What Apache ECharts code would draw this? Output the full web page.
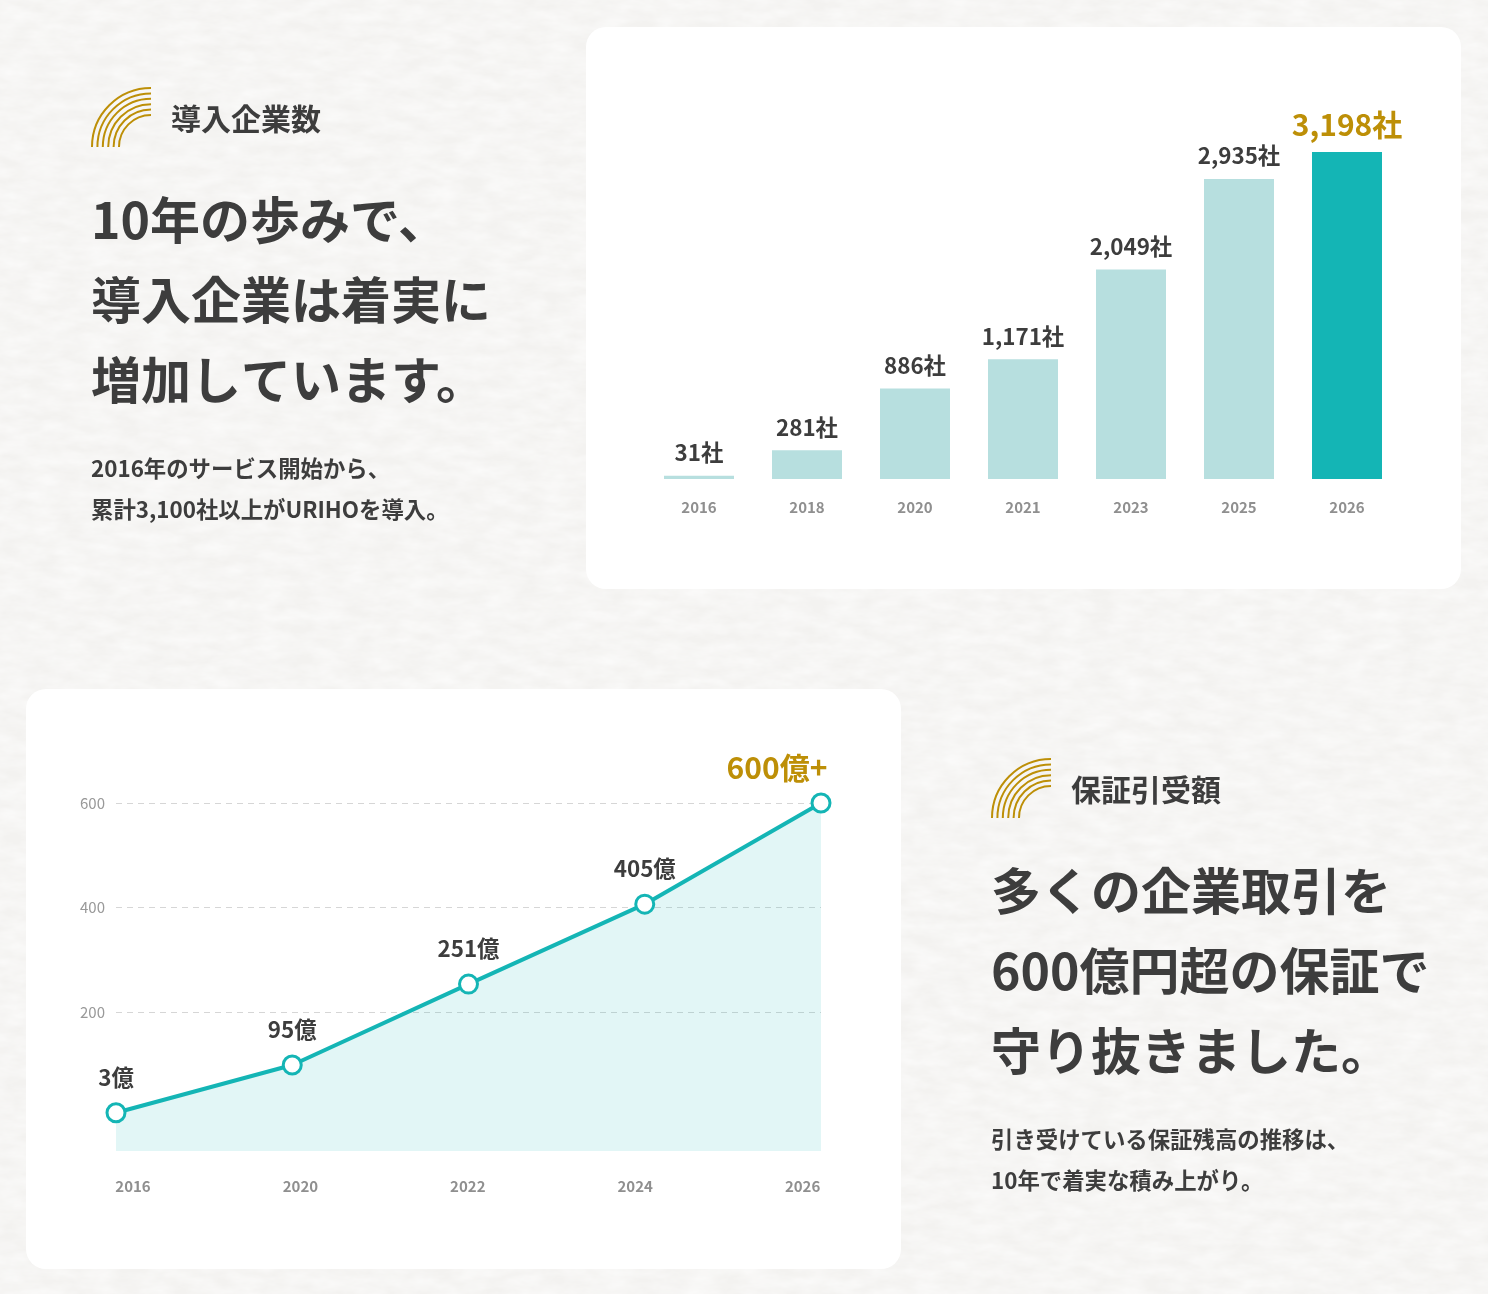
<!DOCTYPE html>
<html lang="ja"><head><meta charset="utf-8">
<style>
html,body{margin:0;padding:0;background-color:#f3f2f0;
background-image:url("data:image/svg+xml,%3Csvg xmlns='http://www.w3.org/2000/svg' width='1488' height='1294'%3E%3Cfilter id='n' x='0' y='0' width='100%25' height='100%25'%3E%3CfeTurbulence type='fractalNoise' baseFrequency='0.035 0.09' numOctaves='4' seed='3'/%3E%3CfeColorMatrix values='0 0 0 0 1 0 0 0 0 1 0 0 0 0 1 0.9 0 0 0 -0.2'/%3E%3C/filter%3E%3Crect width='1488' height='1294' filter='url(%23n)'/%3E%3C/svg%3E");
background-repeat:no-repeat}
#c{width:1488px;height:1294px}</style>
<script src="https://cdn.jsdelivr.net/npm/echarts@6/dist/echarts.min.js"></script>
</head><body><div id="c"></div>
<script>
const barYears = ['2016','2018','2020','2021','2023','2025','2026'];
const barValues = [31,281,886,1171,2049,2935,3198];
const lineYears = ['2016','2020','2022','2024','2026'];
const lineValues = [3,95,251,405,600];
const lineLabels = ['3億','95億','251億','405億','600億+'];
const yTicks = [200,400,600];
const title1 = '導入企業数';
const head1 = ['10年の歩みで、','導入企業は着実に','増加しています。'];
const body1 = ['2016年のサービス開始から、','累計3,100社以上がURIHOを導入。'];
const title2 = '保証引受額';
const head2 = ['多くの企業取引を','600億円超の保証で','守り抜きました。'];
const body2 = ['引き受けている保証残高の推移は、','10年で着実な積み上がり。'];

const FONT = '"Noto Sans CJK JP"', DARK='#3d3d3d', GOLD='#bd8f07', TEAL='#14b5b5', LIGHT='#b7dfdf', GRAY='#8f8f8f';
const gfx = [];
function card(x,y,w,h){gfx.push({type:'rect',z:-10,shape:{x,y,width:w,height:h,r:20},style:{fill:'#fff'}});}
function text(t,x,y,size,weight){gfx.push({type:'text',z:5,x,y,style:{text:t,fill:DARK,font:`${weight} ${size}px ${FONT}`,textAlign:'left',textVerticalAlign:'middle'}});}
function rainbow(cx,cy){[59,53.6,48.2,42.8,37.4,32].forEach(r=>gfx.push({type:'arc',z:5,shape:{cx,cy,r,startAngle:Math.PI,endAngle:Math.PI*1.5,clockwise:true},style:{fill:'none',stroke:GOLD,lineWidth:2}}));}
card(586,27,875,562); card(26,689,875,580);
function block(x,tx,ty,title,head,body){
  rainbow(x+60,ty+28);
  text(title,tx,ty-0.5,30,700);
  head.forEach((s,i)=>text(s,x,ty+101+i*80,50,700));
  body.forEach((s,i)=>text(s,x,ty+349+i*41,22.4,700));
}
block(91,171,119,title1,head1,body1);
block(991,1071,790,title2,head2,body2);

const chart = echarts.init(document.getElementById('c'),null,{renderer:'canvas'});
chart.setOption({
  animation:false,
  backgroundColor:'transparent',
  textStyle:{fontFamily:FONT},
  graphic:gfx,
  grid:[
    {left:645,top:152,width:756,height:327},
    {left:116,top:803,width:705,height:348},
    {left:49.3,top:1100,width:837,height:51}
  ],
  xAxis:[
    {gridIndex:0,type:'category',data:barYears,axisLine:{show:false},axisTick:{show:false},
     axisLabel:{color:GRAY,fontSize:15,fontWeight:700,fontFamily:FONT,margin:21}},
    {gridIndex:1,type:'category',data:lineYears,boundaryGap:false,axisLine:{show:false},axisTick:{show:false},axisLabel:{show:false}},
    {gridIndex:2,type:'category',data:lineYears,axisLine:{show:false},axisTick:{show:false},
     axisLabel:{color:GRAY,fontSize:15,fontWeight:700,fontFamily:FONT,margin:28}}
  ],
  yAxis:[
    {gridIndex:0,type:'value',min:0,max:3198,show:false},
    {gridIndex:1,type:'value',min:-66,max:600,axisLine:{show:false},
     axisTick:{show:false,customValues:yTicks},
     axisLabel:{color:'#999',fontSize:15,fontFamily:FONT,margin:11,customValues:yTicks,showMinLabel:true,showMaxLabel:true},
     splitLine:{show:true,lineStyle:{color:'#d6d6d6',type:[6,5],width:1}}},
    {gridIndex:2,type:'value',show:false},
    {gridIndex:1,type:'value',min:-70.7,max:600,show:false,splitLine:{show:false}}
  ],
  series:[
    {type:'bar',xAxisIndex:0,yAxisIndex:0,barWidth:70,
     data:barValues.map((v,i)=>{
       const last=i===barValues.length-1;
       return {value:v,itemStyle:{color:last?TEAL:LIGHT},
         label:{show:true,position:'top',distance:12,formatter:v.toLocaleString('en-US')+'社',
           color:last?GOLD:DARK,fontSize:last?30:22.4,fontWeight:700,fontFamily:FONT}};
     })},
    {type:'line',xAxisIndex:1,yAxisIndex:3,symbol:'circle',symbolSize:18,z:5,
     lineStyle:{color:TEAL,width:4},
     itemStyle:{color:'#fff',borderColor:TEAL,borderWidth:3},
     areaStyle:{color:'rgba(20,181,181,0.12)',origin:'start',opacity:1},
     data:lineValues.map((v,i)=>{
       const last=i===lineValues.length-1;
       return {value:v,label:{show:true,position:'top',distance:last?10:14,offset:last?[-44,0]:[0,0],formatter:lineLabels[i],
         color:last?GOLD:DARK,fontSize:last?30:22.4,fontWeight:700,fontFamily:FONT}};
     })}
  ]
});
</script></body></html>
